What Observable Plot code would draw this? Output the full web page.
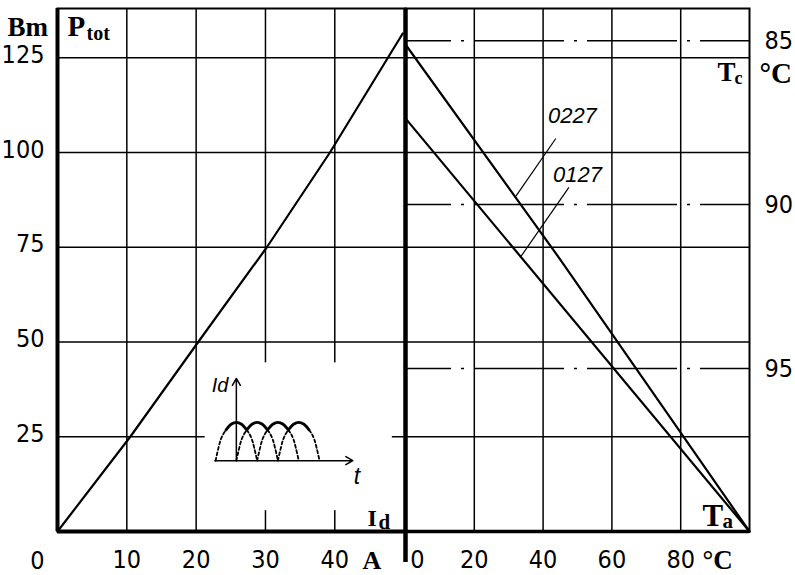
<!DOCTYPE html>
<html>
<head>
<meta charset="utf-8">
<script src="https://cdn.jsdelivr.net/npm/d3@7"></script>
<script src="https://cdn.jsdelivr.net/npm/@observablehq/plot@0.6"></script>
<style>
html, body { margin: 0; padding: 0; background: #fff; }
#chart { position: relative; width: 795px; height: 575px; overflow: hidden; background: #fff; }
#chart svg { position: absolute; left: 0; top: 0; }
</style>
</head>
<body>
<div id="chart"></div>
<script>
// ---------- data ----------
const currentTicks = [10, 20, 30, 40];          // Id, A
const powerTicks = [25, 50, 75, 100, 125];      // Ptot, W
const ambientTicks = [20, 40, 60, 80];          // Ta, °C
const caseTicks = [85, 90, 95];                 // Tc, °C

// dissipated power vs. average forward current
const lossCurrent = [0, 10.5, 20.3, 30.2, 39.3, 49.8];
const lossPower   = [0, 25, 50, 75, 100, 131.4];

// derating lines, power vs. ambient temperature
const derating0227Ta = [0, 45.2, 100];
const derating0227P  = [128.5, 71.5, 0];
const derating0127Ta = [0, 100];
const derating0127P  = [109, 0];

// type labels and their leader lines
const typeNames = ["0227", "0127"];
const leaderFromTa = [43.7, 47.5];
const leaderFromP  = [103.7, 90.8];
const leaderToTa   = [32.1, 33.5];
const leaderToP    = [88.5, 72.5];
const typeLabelTa  = [41.4, 42.9];
const typeLabelP   = [107.7, 92.1];

// inset sketch of the rectified current waveform (in A / W units of the left panel)
const insetBox = [{x1: 21.3, x2: 48.3, y1: 5.5, y2: 44.5}];
const insetAxes = [
  {x1: 25.8, y1: 18.7, x2: 25.8, y2: 40.4},
  {x1: 22.7, y1: 18.7, x2: 42.6, y2: 18.7}
];
const humpPeaks = [25.8, 28.8, 31.8, 34.8];
const humpHalfWidth = 3.0;
const humpBase = 18.7;
const humpTop = 28.8;
const humpOffsets = [-1, -0.875, -0.75, -0.625, -0.5, -0.25, 0, 0.25, 0.5, 0.625, 0.75, 0.875, 1];
const humpHeights = [0, 0.3, 0.55, 0.7, 0.8, 0.95, 1, 0.95, 0.8, 0.7, 0.55, 0.3, 0];

// ---------- tables built from the arrays ----------
const lossData = lossCurrent.map((I, i) => ({I, P: lossPower[i]}));
const derating = [
  ...derating0227Ta.map((Ta, i) => ({type: "0227", Ta, P: derating0227P[i]})),
  ...derating0127Ta.map((Ta, i) => ({type: "0127", Ta, P: derating0127P[i]}))
];
const leaders = typeNames.map((t, i) => ({
  type: t, x1: leaderFromTa[i], y1: leaderFromP[i], x2: leaderToTa[i], y2: leaderToP[i],
  lx: typeLabelTa[i], ly: typeLabelP[i]
}));
const humpSolid = [], humpDashed = [];
humpPeaks.forEach((c, k) => {
  humpOffsets.forEach((u, j) => {
    const pt = {x: c + u * humpHalfWidth, y: humpBase + humpHeights[j] * (humpTop - humpBase)};
    if (u >= -0.5 && u <= 0.5) humpSolid.push({...pt, g: "s" + k});
    if (u <= -0.5) humpDashed.push({...pt, g: "l" + k});
    if (u >= 0.5) humpDashed.push({...pt, g: "r" + k});
  });
});

// ---------- styling ----------
const W = 795, H = 575;
const narrow = "'Liberation Sans Narrow', 'Arial Narrow', 'DejaVu Sans Condensed', sans-serif";
const serif = "'Liberation Serif', 'DejaVu Serif', serif";
const sans = "'Liberation Sans', Arial, sans-serif";
const ink = "#000";
const tickFont = 25;
const baseStyle = {background: "transparent", fontFamily: narrow, fontSize: tickFont + "px", color: ink, overflow: "visible"};
const lbl = (s, anchor, dx, dy, size, extra = {}) =>
  Plot.text([s], {frameAnchor: anchor, dx, dy, text: d => d, textAnchor: "start", lineAnchor: "bottom",
    fontFamily: serif, fontWeight: "bold", fontSize: size, fill: ink, ...extra});

const yPower = {domain: [0, 138]};

// ---------- left panel: Ptot vs Id ----------
const left = Plot.plot({
  width: W, height: H,
  marginLeft: 57, marginRight: 390, marginTop: 8, marginBottom: 44,
  x: {domain: [0, 50.2]},
  y: yPower,
  style: baseStyle,
  marks: [
    Plot.ruleX(currentTicks, {stroke: ink, strokeWidth: 1.5}),
    Plot.ruleY(powerTicks, {stroke: ink, strokeWidth: 1.5}),
    Plot.rect(insetBox, {x1: "x1", x2: "x2", y1: "y1", y2: "y2", fill: "white"}),
    Plot.line(lossData, {x: "I", y: "P", stroke: ink, strokeWidth: 2.2}),
    // inset
    Plot.arrow(insetAxes, {x1: "x1", y1: "y1", x2: "x2", y2: "y2", stroke: ink, strokeWidth: 1.5, headLength: 8}),
    Plot.line(humpSolid, {x: "x", y: "y", z: "g", curve: "catmull-rom", stroke: ink, strokeWidth: 2.8}),
    Plot.line(humpDashed, {x: "x", y: "y", z: "g", curve: "catmull-rom", stroke: ink, strokeWidth: 1.8, strokeDasharray: "3,2.5"}),
    Plot.text([insetAxes[0]], {x: "x2", y: "y2", text: () => "Id", textAnchor: "end", lineAnchor: "bottom",
      dx: -8, dy: 14, fontFamily: sans, fontStyle: "italic", fontSize: 20, fill: ink}),
    Plot.text([insetAxes[1]], {x: "x2", y: "y2", text: () => "t", textAnchor: "middle", lineAnchor: "middle",
      dx: 4, dy: 16, fontFamily: sans, fontStyle: "italic", fontSize: 23, fill: ink}),
    // frame
    Plot.frame({stroke: ink, strokeWidth: 2}),
    Plot.ruleX([0], {stroke: ink, strokeWidth: 4}),
    Plot.ruleY([0], {stroke: ink, strokeWidth: 4}),
    // axes
    Plot.axisY({ticks: powerTicks, tickSize: 0, tickPadding: 13, dy: -3, fontSize: tickFont, fill: ink}),
    Plot.axisX({ticks: currentTicks, tickSize: 0, tickPadding: 19, fontSize: tickFont, fill: ink}),
    Plot.text(["0"], {frameAnchor: "bottom-left", dx: -13, dy: 29, text: d => d, textAnchor: "end",
      lineAnchor: "middle", fontSize: tickFont, fill: ink}),
    // titles
    lbl("Bm", "top-left", -50, 27, 27),
    lbl("P", "top-left", 10, 27, 29),
    lbl("tot", "top-left", 29, 31, 20),
    lbl("I", "bottom-right", -38, -6, 24),
    lbl("d", "bottom-right", -27, -3, 21),
    lbl("A", "bottom-right", -43, 37, 26)
  ]
});

// ---------- right panel: Ptot vs Ta ----------
const right = Plot.plot({
  width: W, height: H,
  marginLeft: 405, marginRight: 46, marginTop: 8, marginBottom: 44,
  x: {domain: [0, 100]},
  y: {...yPower, axis: null},
  style: baseStyle,
  marks: [
    Plot.ruleX(ambientTicks, {stroke: ink, strokeWidth: 1.5}),
    Plot.ruleY(powerTicks, {stroke: ink, strokeWidth: 1.5}),
    Plot.line(derating, {x: "Ta", y: "P", z: "type", stroke: ink, strokeWidth: 2.2}),
    Plot.link(leaders, {x1: "x1", y1: "y1", x2: "x2", y2: "y2", stroke: ink, strokeWidth: 1.2}),
    Plot.text(leaders, {x: "lx", y: "ly", text: "type", textAnchor: "start", lineAnchor: "bottom",
      fontFamily: sans, fontStyle: "italic", fontSize: 22, fill: ink}),
    Plot.frame({stroke: ink, strokeWidth: 2}),
    Plot.ruleY([0], {stroke: ink, strokeWidth: 3.5}),
    Plot.ruleX([0], {stroke: ink, strokeWidth: 4.5, insetBottom: -31}),
    Plot.axisX({ticks: ambientTicks, tickSize: 0, tickPadding: 19, fontSize: tickFont, fill: ink}),
    Plot.axisX({ticks: [0], tickSize: 0, tickPadding: 19, dx: 12, fontSize: tickFont, fill: ink}),
    lbl("T", "top-right", -32, 72, 27),
    lbl("c", "top-right", -15, 75, 18),
    lbl("°C", "top-right", 10, 74, 29),
    lbl("T", "bottom-right", -47, -6, 31),
    lbl("a", "bottom-right", -27, -4, 21),
    lbl("°C", "bottom-right", -47, 37, 27)
  ]
});

// ---------- case temperature scale (right axis) ----------
const caseAxis = Plot.plot({
  width: W, height: H,
  marginLeft: 405, marginRight: 46, marginTop: 8, marginBottom: 44,
  y: {domain: [99.97, 84.02]},
  style: baseStyle,
  marks: [
    Plot.ruleY(caseTicks, {stroke: ink, strokeWidth: 1.5, strokeDasharray: "90,10,3,10", strokeDashoffset: 44}),
    Plot.axisY({ticks: caseTicks, anchor: "right", tickSize: 0, tickPadding: 15, fontSize: tickFont, fill: ink})
  ]
});

const host = document.getElementById("chart");
host.append(left, right, caseAxis);
</script>
</body>
</html>
